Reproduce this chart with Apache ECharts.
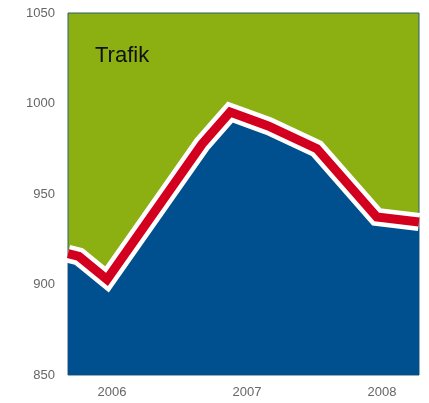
<!DOCTYPE html>
<html>
<head>
<meta charset="utf-8">
<script src="https://cdn.jsdelivr.net/npm/echarts@6/dist/echarts.min.js"></script>
<style>
  html, body { margin: 0; padding: 0; background: #fff; }
  #chart { width: 429px; height: 403px; }
</style>
</head>
<body>
<div id="chart"></div>
<script>
// tid i decimalår
const times = [2005.674, 2005.755, 2005.963, 2006.667, 2006.875, 2007.157, 2007.517, 2007.961, 2008.274]
const traffic = [917, 915.5, 902.8, 977.6, 995.3, 987.6, 975.1, 937.3, 934.5]
const yearLabels = [2006, 2007, 2008]

const points = times.map((t, i) => [t, traffic[i]])

const chart = echarts.init(document.getElementById('chart'))
const option = {
  animation: false,
  title: {
    text: 'Trafik',
    left: 95,
    top: 45,
    padding: 0,
    textStyle: {
      fontFamily: 'Liberation Sans',
      fontSize: 22,
      fontWeight: 'normal',
      color: '#111'
    }
  },
  grid: {
    left: 68,
    top: 13,
    right: 10,
    bottom: 28,
    show: true,
    backgroundColor: '#8cb011',
    borderColor: '#2d5f6e',
    borderWidth: 1
  },
  xAxis: {
    type: 'value',
    min: 2005.674,
    max: 2008.274,
    axisLine: { show: false },
    axisTick: { show: false },
    splitLine: { show: false },
    axisLabel: {
      customValues: yearLabels,
      formatter: (v) => String(Math.round(v)),
      margin: 11,
      fontFamily: 'Liberation Sans',
      fontSize: 13,
      color: '#666'
    }
  },
  yAxis: {
    type: 'value',
    min: 850,
    max: 1050,
    interval: 50,
    axisLine: { show: false },
    axisTick: { show: false },
    splitLine: { show: false },
    axisLabel: {
      margin: 13,
      formatter: (v) => String(v),
      fontFamily: 'Liberation Sans',
      fontSize: 13,
      color: '#666'
    }
  },
  series: [
    {
      type: 'line',
      data: points,
      symbol: 'none',
      lineStyle: { color: '#fff', width: 18, join: 'miter', miterLimit: 10, cap: 'butt' },
      areaStyle: { color: '#00508f', opacity: 1, origin: 'start' },
      z: 2
    },
    {
      type: 'line',
      data: points,
      symbol: 'none',
      lineStyle: { color: '#d2001e', width: 9, join: 'miter', miterLimit: 10, cap: 'butt' },
      z: 3
    }
  ]
}
chart.setOption(option)
</script>
</body>
</html>
